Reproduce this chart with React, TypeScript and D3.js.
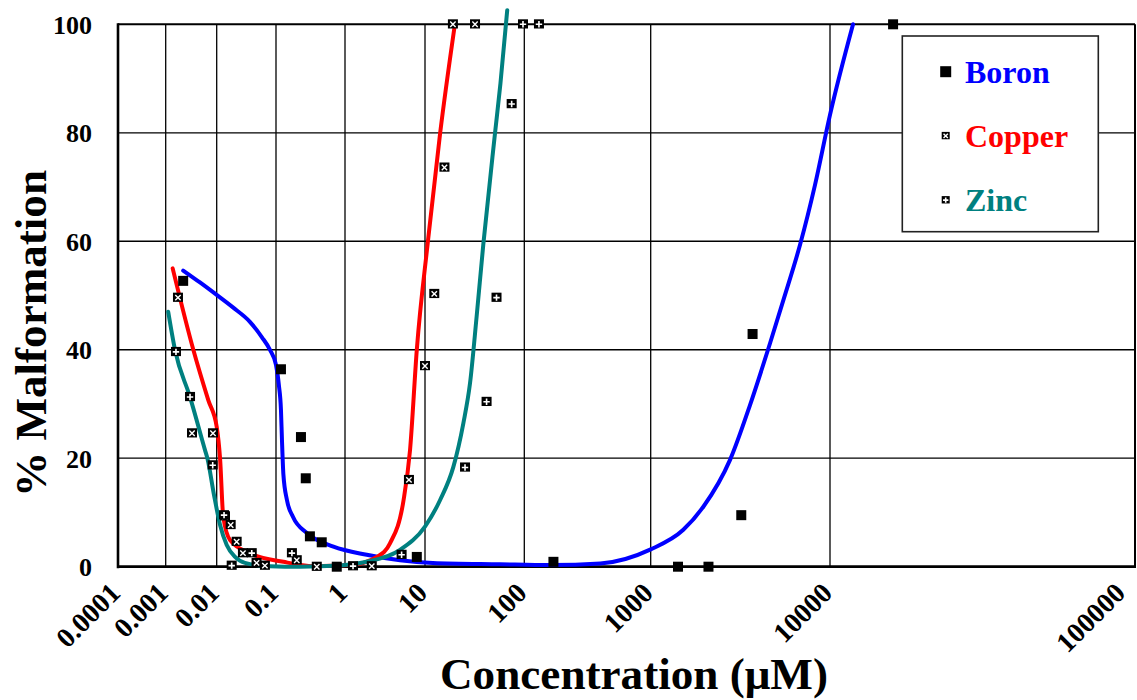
import * as d3 from 'd3'

// tick values and labels
const xTicks = [0.0001, 0.001, 0.01, 0.1, 1, 10, 100, 1000, 10000, 100000]
const xTickLabels = ['0.0001', '0.001', '0.01', '0.1', '1', '10', '100', '1000', '10000', '100000']
const yTicks = [0, 20, 40, 60, 80, 100]

// measured points (concentration µM, % malformation)
const boronX = [0.0022, 0.118, 0.23, 0.27, 0.31, 0.46, 0.76, 7.9, 170, 1420, 2100, 3200, 3700, 16100]
const boronY = [52.7, 36.4, 23.9, 16.3, 5.6, 4.5, 0, 1.8, 0.9, 0, 0, 9.5, 42.9, 100]

const copperX = [0.00174, 0.00328, 0.00845, 0.0138, 0.0172, 0.0217, 0.0277, 0.047, 0.065, 0.2, 0.39, 2.16, 6.3, 10, 12.4, 15.7, 19.1, 31.9]
const copperY = [49.6, 24.6, 24.6, 9.3, 7.7, 4.6, 2.5, 0.7, 0.2, 1.2, 0, 0.1, 16, 37, 50.3, 73.6, 100, 100]

const zincX = [0.00159, 0.003, 0.00835, 0.0133, 0.0179, 0.039, 0.17, 1.26, 5.1, 25.3, 41.7, 52.5, 74.6, 97, 130.6]
const zincY = [39.6, 31.3, 18.7, 9.5, 0.2, 2.5, 2.5, 0.1, 2.2, 18.3, 30.4, 49.6, 85.3, 100, 100]

// fitted curves
const boronCurveX = [0.0022, 0.0047, 0.01, 0.0188, 0.036, 0.058, 0.079, 0.1, 0.11, 0.118, 0.122, 0.128, 0.144, 0.176, 0.28, 0.68, 1.87, 4.87, 12, 57, 160, 400, 1000, 1520, 1970, 2770, 3580, 4630, 5500, 6800, 8250, 10000, 11900]
const boronCurveY = [54.6, 52.4, 50.1, 47.8, 45.2, 42.3, 40.0, 37.2, 33.5, 28.9, 23.4, 17.0, 12.3, 9.2, 6.2, 3.7, 2.2, 1.2, 0.7, 0.45, 0.3, 0.6, 3.2, 6.8, 11.1, 19.7, 29.8, 41.2, 49.2, 59.3, 70.4, 83.3, 100]

const copperCurveX = [0.00137, 0.00348, 0.00684, 0.01, 0.0114, 0.0129, 0.0168, 0.036, 0.128, 0.35, 1.15, 2.5, 3.65, 5.4, 6.5, 7.9, 10.7, 14.2, 20]
const copperCurveY = [55.0, 40.0, 30.7, 25.8, 19.9, 9.2, 4.9, 2.5, 0.9, 0.1, 0.3, 1.8, 4.3, 12.3, 21.5, 40, 60, 79.9, 100]

const zincCurveX = [0.00112, 0.00152, 0.00299, 0.0059, 0.0066, 0.00886, 0.0114, 0.01475, 0.0204, 0.03, 0.079, 0.223, 0.847, 1.87, 4.87, 10, 14.2, 19.3, 24.3, 28.4, 33.1, 38.6, 50.7, 57.5, 67.3]
const zincCurveY = [47.0, 40.0, 31.3, 21.5, 19.9, 13.2, 7.7, 4.0, 1.8, 0.7, 0.1, 0, 0.2, 0.9, 3.1, 7.4, 12.3, 18.4, 26.4, 33.8, 46.1, 59.3, 79.9, 89.1, 102.6]

const seriesNames = ['Boron', 'Copper', 'Zinc']
const seriesColors = ['#0000ff', '#ff0000', '#008080']

const font = '"Liberation Serif", "Times New Roman", serif'

function Marker({ kind, x, y, s = 10 }: { kind: number; x: number; y: number; s?: number }) {
  const h = s / 2
  if (kind === 0) return <rect x={x - h} y={y - h} width={s} height={s} fill="#000" />
  const a = s * 0.27
  return (
    <g transform={`translate(${x},${y})`}>
      <rect x={-h} y={-h} width={s} height={s * 0.92} fill="#000" />
      {kind === 1 ? (
        <path d={`M${-a},${-a}L${a},${a}M${-a},${a}L${a},${-a}`} stroke="#fff" strokeWidth={1.4} />
      ) : (
        <path d={`M${-a - 0.5},0L${a + 0.5},0M0,${-a - 0.5}L0,${a + 0.5}`} stroke="#fff" strokeWidth={1.6} />
      )}
    </g>
  )
}

export default function App() {
  const left = 118
  const right = 1135
  const top = 24.3
  const bottom = 566.7

  // the decades are not evenly spaced in the original, so map each one
  const x = d3.scaleLog()
    .domain(xTicks)
    .range([left, 165.7, 216.7, 276, 345, 425, 524.3, 650.7, 830, right])
  const y = d3.scaleLinear().domain([0, 100]).range([bottom, top])

  const line = d3.line<[number, number]>()
    .x(d => x(d[0]))
    .y(d => y(d[1]))
    .curve(d3.curveMonotoneX)

  const curves = [
    d3.zip(boronCurveX, boronCurveY) as [number, number][],
    d3.zip(copperCurveX, copperCurveY) as [number, number][],
    d3.zip(zincCurveX, zincCurveY) as [number, number][],
  ]
  const points = [
    d3.zip(boronX, boronY),
    d3.zip(copperX, copperY),
    d3.zip(zincX, zincY),
  ]

  return (
    <div style={{ position: 'absolute', left: 0, top: 0 }}>
      <svg width={1137} height={700} style={{ display: 'block', background: '#fff' }} fontFamily={font}>
        {/* grid */}
        {xTicks.slice(1, -1).map(t => (
          <line key={'gx' + t} x1={x(t)} x2={x(t)} y1={top} y2={bottom} stroke="#000" strokeWidth={1.3} />
        ))}
        {yTicks.slice(1, -1).map(t => (
          <line key={'gy' + t} x1={left} x2={right} y1={y(t)} y2={y(t)} stroke="#000" strokeWidth={1.3} />
        ))}
        {/* frame */}
        <line x1={left} x2={right} y1={top} y2={top} stroke="#000" strokeWidth={2} />
        <line x1={right} x2={right} y1={top} y2={bottom} stroke="#000" strokeWidth={2} />
        <line x1={left} x2={left} y1={top - 1} y2={bottom + 1.5} stroke="#000" strokeWidth={2.6} />
        <line x1={left - 1} x2={right + 1} y1={bottom} y2={bottom} stroke="#000" strokeWidth={2.8} />

        {/* y tick labels */}
        {yTicks.map(t => (
          <text key={'yl' + t} x={92} y={y(t)} dy="0.36em" textAnchor="end" fontSize={26} fontWeight="bold">
            {t}
          </text>
        ))}
        {/* x tick labels */}
        {xTicks.map((t, i) => (
          <text
            key={'xl' + t}
            transform={`translate(${Math.min(x(t) + 4, 1127)},${bottom + 28}) rotate(-45)`}
            textAnchor="end"
            fontSize={28}
            fontWeight="bold"
          >
            {xTickLabels[i]}
          </text>
        ))}

        {/* axis titles */}
        <text x={634} y={689} textAnchor="middle" fontSize={44} fontWeight="bold" textLength={388} lengthAdjust="spacingAndGlyphs">
          Concentration (μM)
        </text>
        <text transform="translate(46,333.5) rotate(-90)" textAnchor="middle" fontSize={44} fontWeight="bold" textLength={327} lengthAdjust="spacingAndGlyphs">
          % Malformation
        </text>

        {/* fitted curves */}
        {curves.map((c, i) => (
          <path key={'c' + i} d={line(c) || ''} fill="none" stroke={seriesColors[i]} strokeWidth={4} strokeLinecap="round" strokeLinejoin="round" />
        ))}

        {/* data points */}
        {points.map((pts, i) =>
          pts.map((p, j) => <Marker key={`p${i}-${j}`} kind={i} x={x(p[0])} y={y(p[1])} />)
        )}

        {/* legend */}
        <rect x={902.3} y={36} width={196} height={195.7} fill="#fff" stroke="#222" strokeWidth={1.6} />
        {seriesNames.map((name, i) => (
          <g key={name} transform={`translate(0,${i * 64.2})`}>
            <Marker kind={i} x={945.7} y={71.7} s={i === 0 ? 11 : 8} />
            <text x={965} y={82.7} fontSize={32} fontWeight="bold" fill={seriesColors[i]}>
              {name}
            </text>
          </g>
        ))}
      </svg>
    </div>
  )
}
